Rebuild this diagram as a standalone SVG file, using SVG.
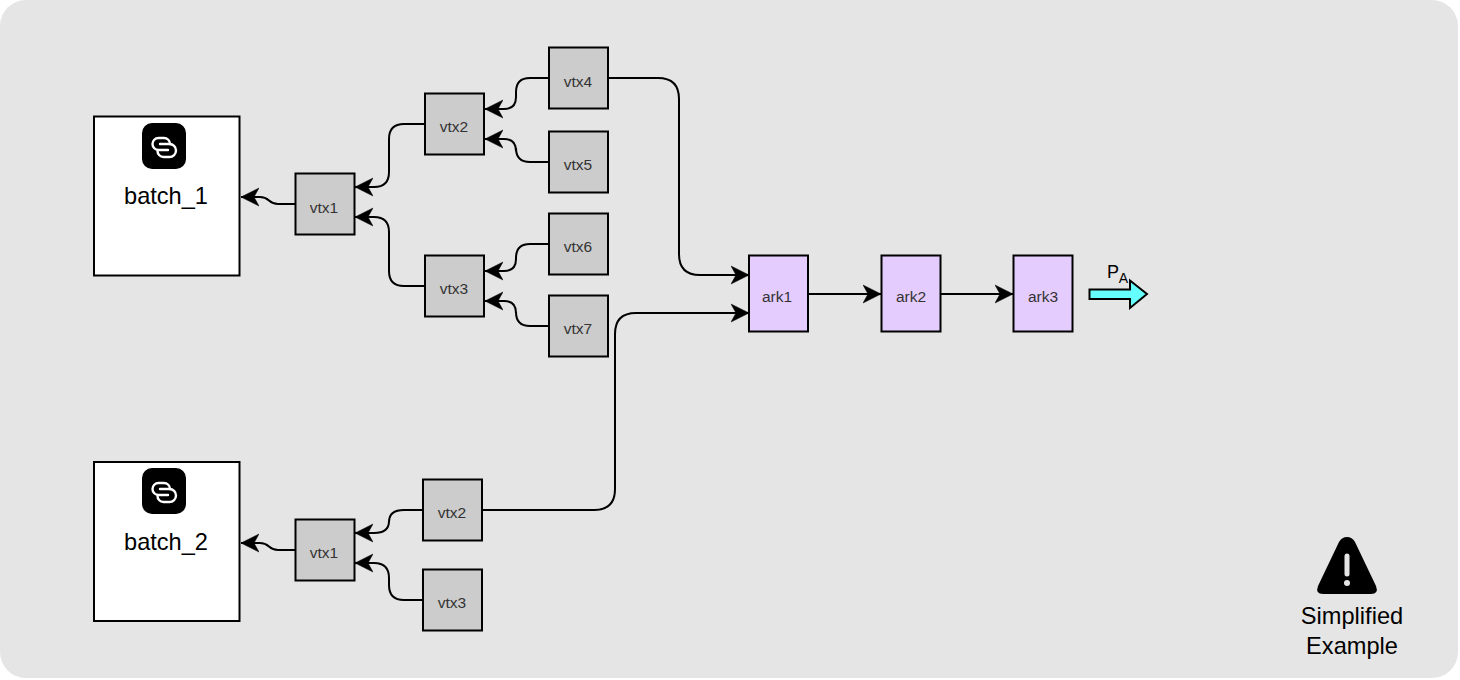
<svg xmlns="http://www.w3.org/2000/svg" width="1460" height="680" viewBox="0 0 1460 680">
<style>
text{font-family:"Liberation Sans",Arial,sans-serif;text-anchor:middle}
.b{fill:#fff;stroke:#000;stroke-width:2}
.v{fill:#ccc;stroke:#000;stroke-width:2}
.a{fill:#e5ccff;stroke:#000;stroke-width:2}
.t{font-size:15.5px;fill:#333}
.l{font-size:23.6px;fill:#000}
.e{fill:none;stroke:#000;stroke-width:2;marker-end:url(#ah)}
</style>
<defs>
<marker id="ah" markerUnits="userSpaceOnUse" markerWidth="20" markerHeight="22" refX="18" refY="11" orient="auto" viewBox="0 0 20 22"><path d="M18 11L0 2L5 11L0 20Z" fill="#000" stroke="#000" stroke-width="0.500"/></marker>
<symbol id="ic" viewBox="0 0 44 46"><rect width="44" height="46" rx="10" fill="#000"/><g fill="none" stroke="#fff" stroke-width="2.400" stroke-linecap="round"><path d="M26 27H16.500A6 6 0 0 1 16.500 15H22A6 6 0 0 1 28 21"/><path d="M18 21H27.500A6.500 6.500 0 0 1 27.500 34H21.500A6 6 0 0 1 15.500 28"/></g></symbol>
</defs>
<rect width="1458" height="678" rx="26" fill="#e5e5e5"/>
<g id="connectors">
<path class="e" d="M295 204H278C268 204 270 197 260 197H241"/>
<path class="e" d="M425 124H404Q389 124 389 139V172Q389 187 374 187H355"/>
<path class="e" d="M425 286H404Q389 286 389 271V232Q389 217 374 217H355"/>
<path class="e" d="M549 78H530Q516 78 516 92V97Q516 109 504 109H485"/>
<path class="e" d="M549 162H530Q516 162 516 148V151Q516 139 504 139H485"/>
<path class="e" d="M549 244H530Q516 244 516 258V259Q516 271 504 271H485"/>
<path class="e" d="M549 326H530Q516 326 516 312V313Q516 301 504 301H485"/>
<path class="e" d="M609 78H658Q679 78 679 99V254Q679 275 700 275H749"/>
<path class="e" d="M483 510H594Q615 510 615 489V334Q615 313 636 313H749"/>
<path class="e" d="M808 294H881"/>
<path class="e" d="M941 294H1013"/>
<path class="e" d="M295 550H278C268 550 270 543 260 543H241"/>
<path class="e" d="M423 510H404Q389 510 389 522V521Q389 533 374 533H355"/>
<path class="e" d="M423 600H404Q389 600 389 585V578Q389 563 374 563H355"/>
</g>
<g id="batch_1"><rect class="b" x="94" y="116.500" width="145.500" height="159"/><use href="#ic" x="142" y="123" width="44" height="46"/><text class="l" x="166" y="204">batch_1</text></g>
<g id="batch_2"><rect class="b" x="94" y="462" width="145.500" height="159"/><use href="#ic" x="142" y="468" width="44" height="46"/><text class="l" x="166" y="550">batch_2</text></g>
<g id="b1-vtx1"><rect class="v" x="295.500" y="173.500" width="59" height="61"/><text class="t" x="324" y="213">vtx1</text></g>
<g id="b1-vtx2"><rect class="v" x="425" y="93.500" width="59" height="61"/><text class="t" x="454" y="132">vtx2</text></g>
<g id="b1-vtx3"><rect class="v" x="425" y="255.500" width="59" height="61"/><text class="t" x="454" y="294">vtx3</text></g>
<g id="b1-vtx4"><rect class="v" x="549" y="47.500" width="59" height="61"/><text class="t" x="578" y="87">vtx4</text></g>
<g id="b1-vtx5"><rect class="v" x="549" y="131.500" width="59" height="61"/><text class="t" x="578" y="170">vtx5</text></g>
<g id="b1-vtx6"><rect class="v" x="549" y="213.500" width="59" height="61"/><text class="t" x="578" y="252">vtx6</text></g>
<g id="b1-vtx7"><rect class="v" x="549" y="295.500" width="59" height="61"/><text class="t" x="578" y="334">vtx7</text></g>
<g id="ark1"><rect class="a" x="749" y="255.500" width="59" height="76"/><text class="t" x="777" y="302">ark1</text></g>
<g id="ark2"><rect class="a" x="881.500" y="255.500" width="59" height="76"/><text class="t" x="911" y="302">ark2</text></g>
<g id="ark3"><rect class="a" x="1013.500" y="255.500" width="59" height="76"/><text class="t" x="1043" y="302">ark3</text></g>
<g id="b2-vtx1"><rect class="v" x="295.500" y="519.500" width="59" height="61"/><text class="t" x="324" y="558">vtx1</text></g>
<g id="b2-vtx2"><rect class="v" x="423" y="479.500" width="59" height="61"/><text class="t" x="452" y="518">vtx2</text></g>
<g id="b2-vtx3"><rect class="v" x="423" y="569.500" width="59" height="61"/><text class="t" x="452" y="608">vtx3</text></g>
<g id="pa"><path d="M1089.500 289.500H1130V280.500L1147 294L1130 308V299H1089.500Z" fill="#66ffff" stroke="#000" stroke-width="2"/><text x="1113" y="277.500" font-size="18">P</text><text x="1123.500" y="283" font-size="14">A</text></g>
<g id="note"><path d="M1347 537Q1342 537 1339 542L1318 586Q1315 594 1323 594H1371Q1379 594 1376 586L1355 542Q1352 537 1347 537Z" fill="#000"/><path d="M1347 556V574" stroke="#e5e5e5" stroke-width="5" stroke-linecap="round"/><circle cx="1347" cy="583" r="3" fill="#e5e5e5"/><text class="l" x="1352" y="624">Simplified</text><text class="l" x="1352" y="653.500">Example</text></g>
</svg>
